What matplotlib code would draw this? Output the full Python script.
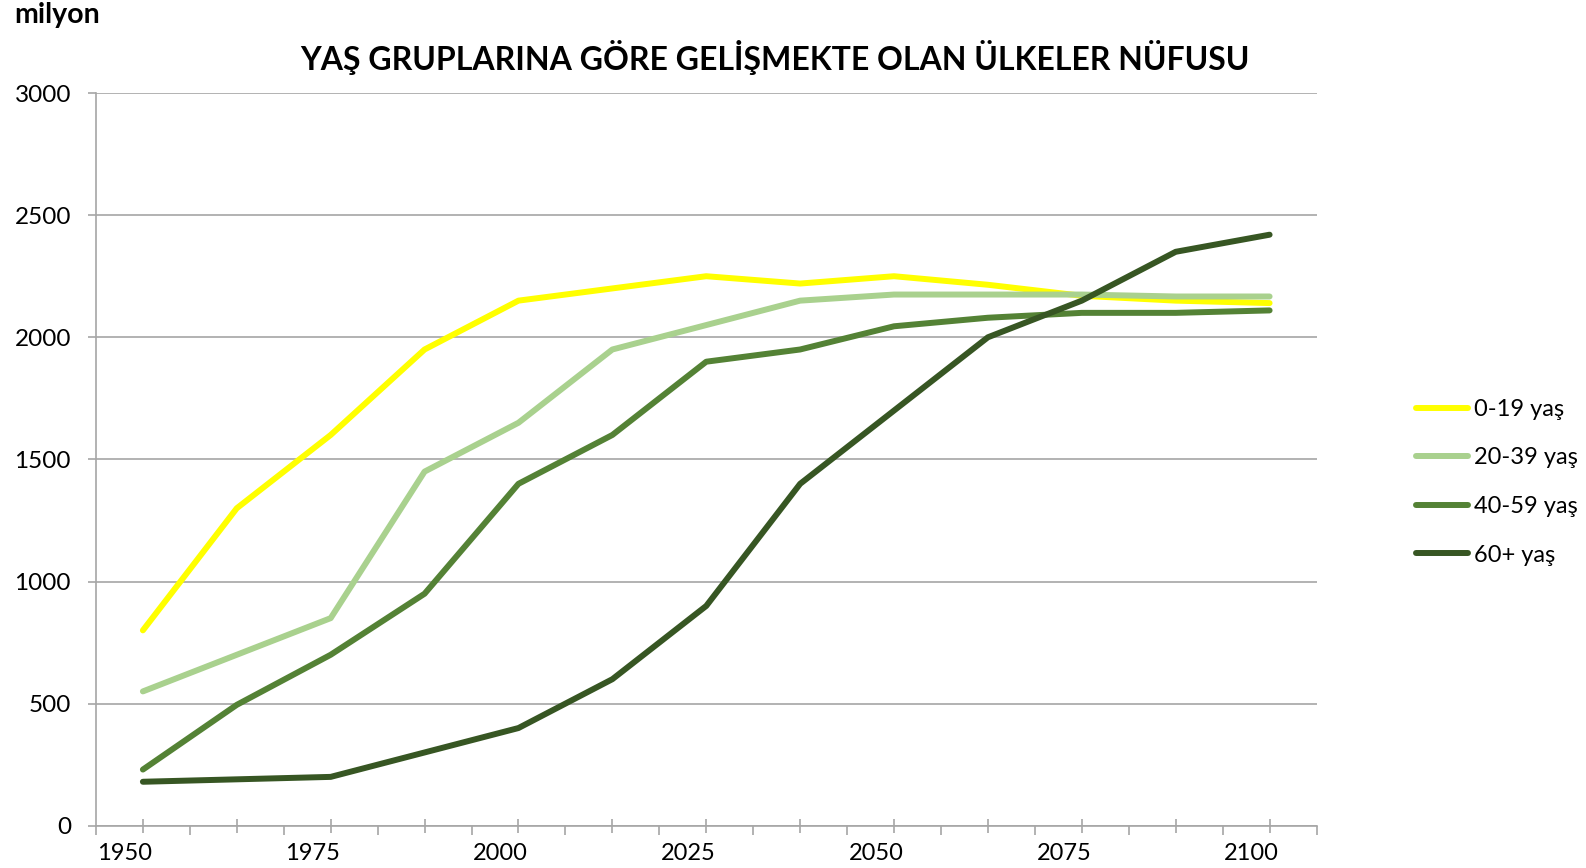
import matplotlib
matplotlib.use("Agg")
import matplotlib.pyplot as plt
import matplotlib.transforms as mtransforms

plt.rcParams['font.family'] = ['Lato', 'DejaVu Sans']

# data (million people)
years = [1950, 1962.5, 1975, 1987.5, 2000, 2012.5, 2025, 2037.5, 2050, 2062.5, 2075, 2087.5, 2100]
age_0_19 = [800, 1300, 1600, 1950, 2150, 2200, 2250, 2220, 2250, 2215, 2170, 2150, 2140]
age_20_39 = [550, 700, 850, 1450, 1650, 1950, 2050, 2150, 2175, 2175, 2175, 2167, 2167]
age_40_59 = [230, 495, 700, 950, 1400, 1600, 1900, 1950, 2045, 2080, 2100, 2100, 2110]
age_60_plus = [180, 190, 200, 300, 400, 600, 900, 1400, 1700, 2000, 2150, 2350, 2420]

labels = ['0-19 yaş', '20-39 yaş', '40-59 yaş', '60+ yaş']
colors = ['#FFFF00', '#A9D18E', '#548235', '#375623']
label_years = [1950, 1975, 2000, 2025, 2050, 2075, 2100]

fig = plt.figure(figsize=(15.86, 8.68), dpi=100)
ax = fig.add_axes([0.0605, 0.0487, 0.7696, 0.8441])

for vals, lab, col in zip([age_0_19, age_20_39, age_40_59, age_60_plus], labels, colors):
    ax.plot(years, vals, color=col, lw=4.3, label=lab, solid_capstyle='round', solid_joinstyle='round')

ax.set_xlim(1943.75, 2106.25)
ax.set_ylim(0, 3000)
ax.set_yticks(range(0, 3001, 500))
ax.grid(axis='y', color='#A6A6A6', lw=1.2)
ax.set_axisbelow(True)

for s in ['top', 'right']:
    ax.spines[s].set_visible(False)
for s in ['left', 'bottom']:
    ax.spines[s].set_color('#A6A6A6')
    ax.spines[s].set_linewidth(1.2)

ax.tick_params(axis='y', colors='#A6A6A6', labelcolor='black', labelsize=17.5,
               length=6, width=1.2, pad=12)

# x axis: crossing ticks at data points, outside ticks between them
between = [y - 6.25 for y in years] + [years[-1] + 6.25]
ax.set_xticks(years)
ax.set_xticklabels([])
ax.set_xticks(between, minor=True)
ax.tick_params(axis='x', which='major', direction='inout', length=9.4, width=1.2, colors='#A6A6A6')
ax.tick_params(axis='x', which='minor', direction='out', length=6.7, width=1.2, colors='#A6A6A6')

trans = mtransforms.blended_transform_factory(ax.transData, ax.transAxes)
shift = mtransforms.ScaledTranslation(-0.18, -0.17, fig.dpi_scale_trans)
for yr in label_years:
    ax.text(yr, 0, str(yr), transform=trans + shift, ha='center', va='top', fontsize=17)

fig.text(0.4886, 0.9194, 'YAŞ GRUPLARINA GÖRE GELİŞMEKTE OLAN ÜLKELER NÜFUSU',
         ha='center', va='baseline', fontsize=23, fontweight='bold')
fig.text(0.0088, 0.9733, 'milyon', ha='left', va='baseline', fontsize=20.5, fontweight='bold')

ax.legend(loc='upper left', bbox_to_anchor=(0.8928, 0.5405), bbox_transform=fig.transFigure,
          frameon=False, fontsize=17, handlelength=2.2, handletextpad=0.25,
          labelspacing=1.17, borderpad=0, borderaxespad=0)

fig.savefig('out.png', dpi=100)
